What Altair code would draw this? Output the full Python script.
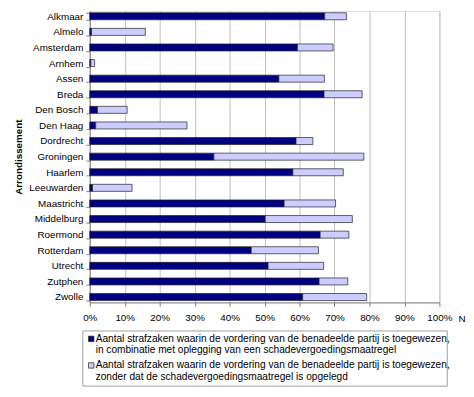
import altair as alt
import pandas as pd

categories = ["Alkmaar", "Almelo", "Amsterdam", "Arnhem", "Assen", "Breda",
              "Den Bosch", "Den Haag", "Dordrecht", "Groningen", "Haarlem",
              "Leeuwarden", "Maastricht", "Middelburg", "Roermond", "Rotterdam",
              "Utrecht", "Zutphen", "Zwolle"]
with_measure = [0.672, 0.005, 0.594, 0.003, 0.541, 0.670, 0.022, 0.017, 0.590,
                0.355, 0.581, 0.008, 0.556, 0.502, 0.659, 0.462, 0.510, 0.656, 0.609]
total = [0.734, 0.159, 0.696, 0.014, 0.671, 0.779, 0.107, 0.278, 0.638,
         0.784, 0.725, 0.121, 0.703, 0.751, 0.741, 0.654, 0.669, 0.738, 0.792]
series = ["met maatregel", "zonder maatregel"]
colors = ["#000080", "#CCCCFF"]
legend_lines = [
    "Aantal strafzaken waarin de vordering van de benadeelde partij is toegewezen,",
    "in combinatie met oplegging van een schadevergoedingsmaatregel",
    "Aantal strafzaken waarin de vordering van de benadeelde partij is toegewezen,",
    "zonder dat de schadevergoedingsmaatregel is opgelegd",
]
x_ticks = [0, 0.1, 0.2, 0.3, 0.4, 0.5, 0.6, 0.7, 0.8, 0.9, 1.0]

rows = []
for c, d, t in zip(categories, with_measure, total):
    rows.append({"cat": c, "serie": series[0], "start": 0.0, "end": d})
    rows.append({"cat": c, "serie": series[1], "start": d, "end": t})
df = pd.DataFrame(rows)

FONT = "Liberation Sans"

bars = alt.Chart(df).mark_bar(stroke="#222222", strokeWidth=0.7).encode(
    y=alt.Y("cat:N", sort=categories,
            scale=alt.Scale(paddingInner=0.55, paddingOuter=0.12),
            axis=alt.Axis(title="Arrondissement", titleFontWeight="bold",
                          titleFontSize=10, labelFontSize=10, labelColor="black",
                          titleFont=FONT, labelFont=FONT,
                          titleColor="black", tickBand="extent", tickSize=4,
                          tickColor="#808080", domainColor="#808080",
                          labelPadding=3, titlePadding=5, grid=False)),
    x=alt.X("start:Q", scale=alt.Scale(domain=[0, 1], nice=False),
            axis=alt.Axis(values=x_ticks, format=".0%", title="N",
                          titleFont=FONT, labelFont=FONT, labelOverlap=False,
                          labelFlush=False,
                          titleFontWeight="normal", titleFontSize=10,
                          titleX=374, titleY=16, titleAlign="left",
                          titleBaseline="middle", titleColor="black",
                          labelFontSize=10, labelColor="black", labelPadding=6,
                          tickSize=4, tickColor="#808080", domainColor="#808080",
                          grid=True, gridColor="#C0C0C0")),
    x2="end:Q",
    color=alt.Color("serie:N", scale=alt.Scale(domain=series, range=colors), legend=None),
)

one = pd.DataFrame({"k": [0]})
layers = [bars]
layers.append(alt.Chart(one).mark_rect(fill="white", stroke="#A0A0A0", strokeWidth=1).encode(
    x=alt.value(-7), x2=alt.value(363), y=alt.value(325), y2=alt.value(381)))

for color, ypos in zip(colors, [333, 360]):
    layers.append(alt.Chart(one).mark_square(size=30, stroke="#222222", strokeWidth=0.7,
                                             fill=color, opacity=1).encode(
        x=alt.value(1.5), y=alt.value(ypos)))

for line, ypos in zip(legend_lines, [333, 344.5, 360, 371.5]):
    layers.append(alt.Chart(one).mark_text(align="left", baseline="middle",
                                           fontSize=10.3, font=FONT,
                                           color="black").encode(
        x=alt.value(6), y=alt.value(ypos), text=alt.value(line)))

chart = alt.layer(*layers).properties(
    width=355, height=296,
    padding={"left": 5, "top": -5, "right": 0, "bottom": 0},
).configure_view(stroke="#A0A0A0", strokeWidth=1).configure(
    font=FONT, background="white")

chart.save("out.html", embed_options={"renderer": "svg", "actions": False})
